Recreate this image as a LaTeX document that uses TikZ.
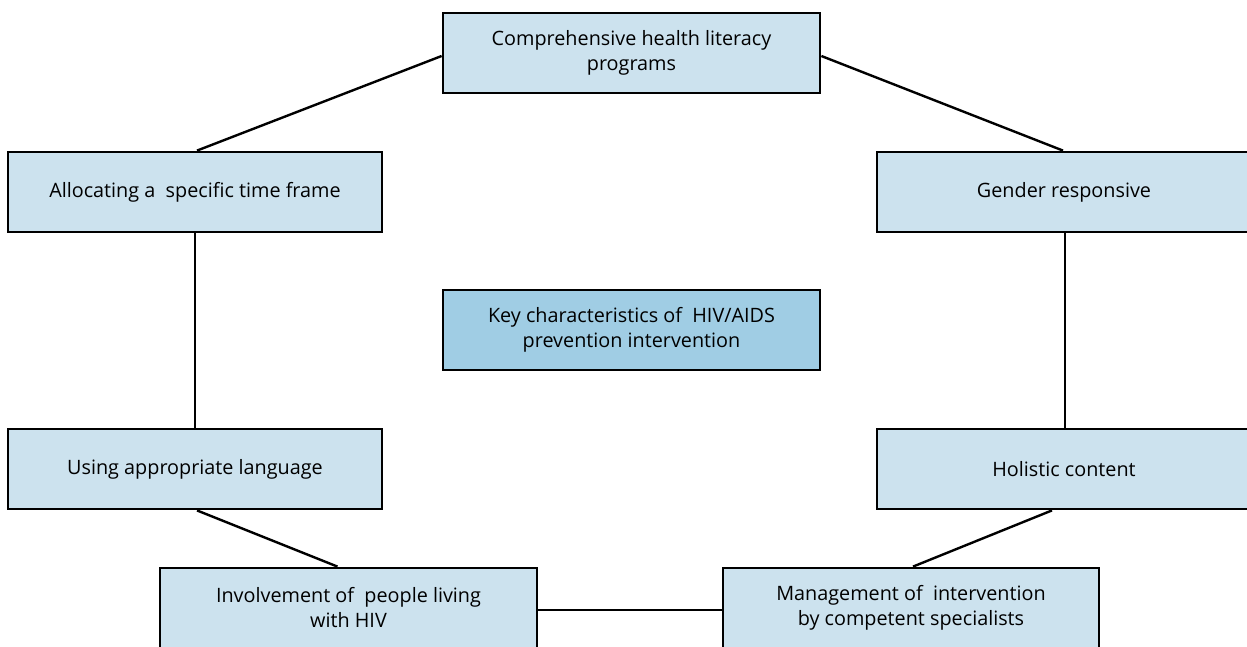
\documentclass[tikz,border=0pt]{standalone}
\usepackage{fontspec}
\setmainfont{Open Sans}
\definecolor{boxfill}{RGB}{204,226,238}
\definecolor{keyfill}{RGB}{160,205,228}
\begin{document}
\begin{tikzpicture}[x=1pt,y=-1pt,
  box/.style={draw=black,line width=2.8pt,fill=boxfill,minimum height=80pt,
    inner sep=0pt,align=center,font=\fontsize{19.8}{25}\selectfont,text=black},
  link/.style={draw=black,line width=2.4pt}]
\useasboundingbox (0,0) rectangle (1247,646);
\clip (0,0) rectangle (1247,646);
\fill[white] (0,0) rectangle (1247,646);
\node[box,minimum width=377pt] (top) at (631.5,53) {Comprehensive health literacy\\programs};
\node[box,minimum width=374pt] (alloc) at (195,192) {Allocating a\ \ specific time frame};
\node[box,minimum width=374pt] (gender) at (1064,192) {Gender responsive};
\node[box,minimum width=377pt,fill=keyfill] (key) at (631.5,330) {Key characteristics of\ \ HIV/AIDS\\prevention intervention};
\node[box,minimum width=374pt] (using) at (195,469) {Using appropriate language};
\node[box,minimum width=374pt] (holistic) at (1064,469) {Holistic content};
\node[box,minimum width=377pt] (involve) at (348.5,608) {Involvement of\ \ people living\\with HIV};
\node[box,minimum width=376pt] (manage) at (911,608) {Management of\ \ intervention\\by competent specialists};
\draw[link] ([yshift=-3pt]top.west) -- ([xshift=2pt]alloc.north);
\draw[link] ([yshift=-3pt]top.east) -- ([xshift=-1pt]gender.north);
\draw[link] (alloc.south) -- (using.north);
\draw[link] ([xshift=1pt]gender.south) -- ([xshift=1pt]holistic.north);
\draw[link] ([xshift=2pt]using.south) -- ([xshift=-11pt]involve.north);
\draw[link] ([xshift=-12pt]holistic.south) -- ([xshift=2pt]manage.north);
\draw[link] ([yshift=-2pt]involve.east) -- ([yshift=-2pt]manage.west);
\end{tikzpicture}
\end{document}
